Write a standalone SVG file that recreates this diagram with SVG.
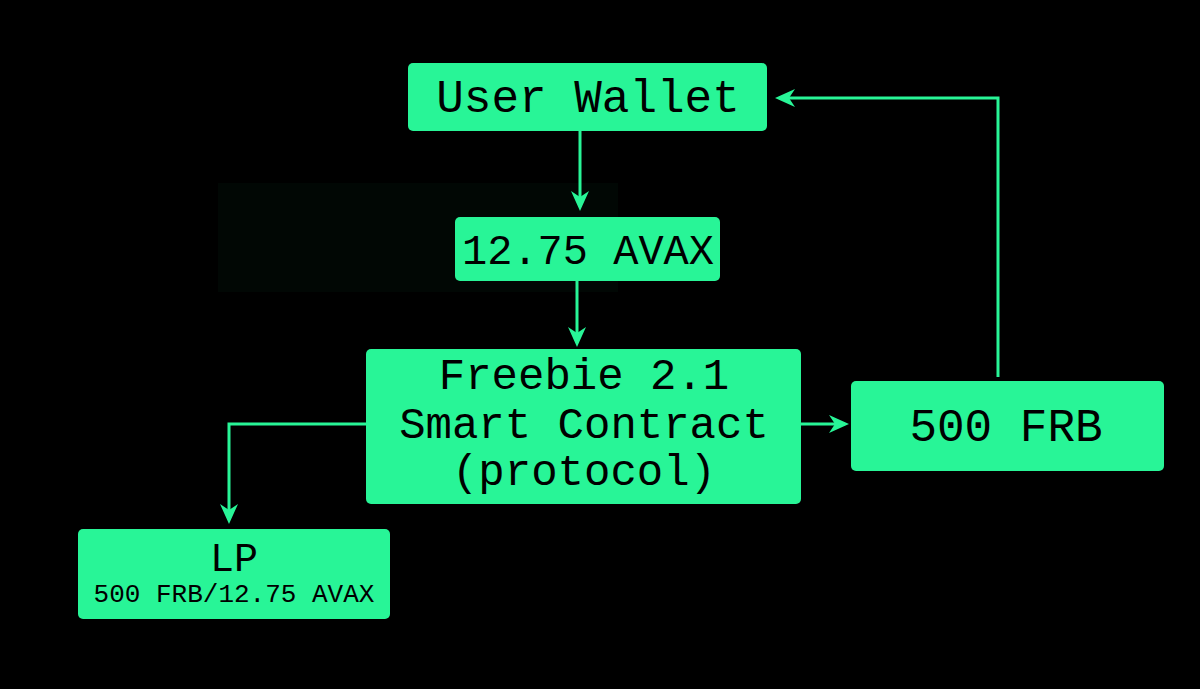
<svg xmlns="http://www.w3.org/2000/svg" width="1200" height="689" viewBox="0 0 1200 689">
<style>
.box{fill:#28F597}
.t{font-family:"Liberation Mono","DejaVu Sans Mono",monospace;fill:#000;text-anchor:middle}
.c{fill:none;stroke:#28F597;stroke-width:3}
</style>
<defs>
<marker id="a" viewBox="0 0 10 10" refX="8" refY="5" markerWidth="20" markerHeight="20" orient="auto" markerUnits="userSpaceOnUse">
<path d="M0,0.5 L10,5 L0,9.5 L3,5 Z" fill="#28F597"/>
</marker>
</defs>
<rect width="1200" height="689" fill="#000"/>
<rect x="218" y="183" width="400" height="109" fill="#010704"/>
<g id="connectors">
<path class="c" d="M580,131 V207" marker-end="url(#a)"/>
<path class="c" d="M577,281 V343" marker-end="url(#a)"/>
<path class="c" d="M366,424 H229 V520" marker-end="url(#a)"/>
<path class="c" d="M801,424 H845" marker-end="url(#a)"/>
<path class="c" d="M998,377 V98 H779" marker-end="url(#a)"/>
</g>
<g id="wallet"><rect class="box" x="408" y="63" width="359" height="68" rx="5"/><text class="t" x="588" y="112" font-size="46">User Wallet</text></g>
<g id="avax"><rect class="box" x="455" y="217" width="265" height="64" rx="5"/><text class="t" x="588" y="264" font-size="42">12.75 AVAX</text></g>
<g id="contract"><rect class="box" x="366" y="349" width="435" height="155" rx="5"/>
<text class="t" x="584" y="389" font-size="44">Freebie 2.1</text>
<text class="t" x="584" y="438" font-size="44">Smart Contract</text>
<text class="t" x="584" y="485" font-size="44">(protocol)</text></g>
<g id="frb"><rect class="box" x="851" y="381" width="313" height="90" rx="5"/><text class="t" x="1006" y="441" font-size="46">500 FRB</text></g>
<g id="lp"><rect class="box" x="78" y="529" width="312" height="90" rx="5"/>
<text class="t" x="234" y="571" font-size="40">LP</text>
<text class="t" x="234" y="602" font-size="26">500 FRB/12.75 AVAX</text></g>
</svg>
